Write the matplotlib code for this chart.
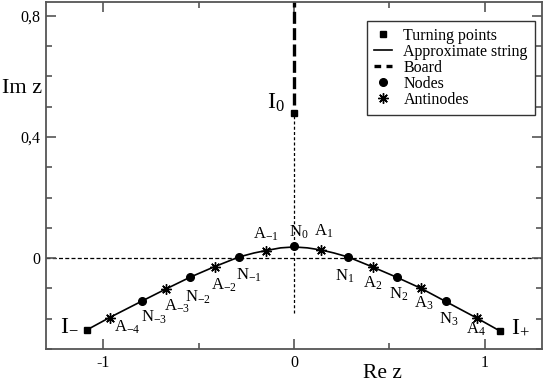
import matplotlib
matplotlib.use("Agg")
import matplotlib.pyplot as plt
from matplotlib.lines import Line2D
from matplotlib.ticker import FixedLocator, FuncFormatter

plt.rcParams['font.family'] = ['Liberation Serif', 'DejaVu Serif']
plt.rcParams['mathtext.fontset'] = 'custom'
plt.rcParams['mathtext.rm'] = 'Liberation Serif'
plt.rcParams['mathtext.it'] = 'Liberation Serif:italic'
plt.rcParams['mathtext.bf'] = 'Liberation Serif:bold'

# ---- data ----
turning_x = [-1.086, 0.0, 1.078]
turning_y = [-0.237, 0.48, -0.240]
turning_labels = [r'I$_{-}$', r'I$_{0}$', r'I$_{+}$']

node_x = [-0.798, -0.545, -0.288, 0.0, 0.283, 0.538, 0.795]
node_y = [-0.142, -0.063, 0.004, 0.040, 0.004, -0.063, -0.143]
node_labels = [r'N$_{-3}$', r'N$_{-2}$', r'N$_{-1}$', r'N$_{0}$',
               r'N$_{1}$', r'N$_{2}$', r'N$_{3}$']

antinode_x = [-0.966, -0.672, -0.416, -0.148, 0.143, 0.412, 0.667, 0.959]
antinode_y = [-0.196, -0.102, -0.028, 0.025, 0.027, -0.029, -0.100, -0.198]
antinode_labels = [r'A$_{-4}$', r'A$_{-3}$', r'A$_{-2}$', r'A$_{-1}$',
                   r'A$_{1}$', r'A$_{2}$', r'A$_{3}$', r'A$_{4}$']

string_x = [-1.086, -0.966, -0.798, -0.672, -0.545, -0.416, -0.288, -0.21,
            -0.148, -0.07, 0.0, 0.07, 0.143, 0.21, 0.283, 0.412, 0.538,
            0.667, 0.795, 0.959, 1.078]
string_y = [-0.237, -0.196, -0.142, -0.102, -0.063, -0.028, 0.004, 0.017,
            0.025, 0.034, 0.037, 0.034, 0.027, 0.017, 0.004, -0.029, -0.063,
            -0.100, -0.143, -0.198, -0.240]

board_x = [0.0, 0.0]
board_y = [0.505, 0.85]
axis_guide_x = [0.0, 0.0]
axis_guide_y = [-0.18, 0.48]

x_major = [-1, 0, 1]
x_minor = [-0.5, 0.5]
y_major = [0.0, 0.4, 0.8]
y_minor = [-0.3, -0.2, -0.1, 0.1, 0.2, 0.3, 0.5, 0.6, 0.7]

legend_labels = ['Turning points', 'Approximate string', 'Board', 'Nodes', 'Antinodes']

# ---- layout (label offsets in pixels: dx, dy, ha) ----
turning_offsets = [(-8, 0, 'right'), (-9, 4, 'right'), (11, -2, 'left')]
node_offsets = [(-1, -20, 'left'), (-5, -24, 'left'), (-3, -23, 'left'),
                (-5, 9, 'left'), (-13, -24, 'left'), (-8, -21, 'left'),
                (-7, -22, 'left')]
antinode_offsets = [(4, -14, 'left'), (-2, -22, 'left'), (-4, -23, 'left'),
                    (-13, 12, 'left'), (-7, 14, 'left'), (-10, -21, 'left'),
                    (-7, -19, 'left'), (-11, -15, 'left')]

fig = plt.figure(figsize=(5.45, 3.83), dpi=100)
ax = fig.add_axes([46 / 545, 34 / 383, 496 / 545, 347.3 / 383])

ax.set_xlim(-1.3, 1.3)
ax.set_ylim(-0.3, 0.847)

spine_col = '#555555'
for s in ax.spines.values():
    s.set_color(spine_col)
    s.set_linewidth(1.3)

# guides
ax.axhline(0, color='black', lw=0.9, dashes=(3.2, 1.8), zorder=1)
ax.plot(axis_guide_x, axis_guide_y, color='black', lw=0.9, dashes=(2.4, 1.8), zorder=1)
# board
ax.plot(board_x, board_y, color='black', lw=2.4, dashes=(3.6, 1.3), zorder=2)
# string
ax.plot(string_x, string_y, color='black', lw=1.2, zorder=3)

star = (8, 2, 0)
ax.plot(turning_x, turning_y, ls='none', marker='s', ms=4.2, color='black', zorder=4)
ax.plot(node_x, node_y, ls='none', marker='o', ms=5.5, color='black', zorder=4)
ax.plot(antinode_x, antinode_y, ls='none', marker=star, ms=7.5, mew=1.0,
        color='black', zorder=4)

for x, y, t, (dx, dy, ha) in zip(turning_x, turning_y, turning_labels, turning_offsets):
    ax.annotate(t, (x, y), xytext=(dx, dy), textcoords='offset pixels',
                ha=ha, va='baseline', fontsize=17)
for x, y, t, (dx, dy, ha) in zip(node_x, node_y, node_labels, node_offsets):
    ax.annotate(t, (x, y), xytext=(dx, dy), textcoords='offset pixels',
                ha=ha, va='baseline', fontsize=12)
for x, y, t, (dx, dy, ha) in zip(antinode_x, antinode_y, antinode_labels, antinode_offsets):
    ax.annotate(t, (x, y), xytext=(dx, dy), textcoords='offset pixels',
                ha=ha, va='baseline', fontsize=12)

# ticks
ax.xaxis.set_major_locator(FixedLocator(x_major))
ax.xaxis.set_minor_locator(FixedLocator(x_minor))
ax.yaxis.set_major_locator(FixedLocator(y_major))
ax.yaxis.set_minor_locator(FixedLocator(y_minor))
fmt = FuncFormatter(lambda v, p: ('%g' % v).replace('.', ','))
ax.xaxis.set_major_formatter(fmt)
ax.yaxis.set_major_formatter(fmt)
ax.tick_params(which='both', direction='in', top=True, right=True,
               color=spine_col, labelsize=11.5)
ax.tick_params(which='major', length=7, width=1.2, pad=4)
ax.tick_params(which='minor', length=4, width=1.2)

ax.text(-0.008, 0.737, 'Im z', transform=ax.transAxes, ha='right',
        va='baseline', fontsize=16)
ax.text(0.639, -0.084, 'Re z', transform=ax.transAxes, ha='left',
        va='baseline', fontsize=15.5)

handles = [
    Line2D([], [], ls='none', marker='s', ms=4.2, color='black'),
    Line2D([], [], color='black', lw=1.2),
    Line2D([], [], color='black', lw=2.4, dashes=(2.0, 1.6)),
    Line2D([], [], ls='none', marker='o', ms=5.5, color='black'),
    Line2D([], [], ls='none', marker=star, ms=7.5, mew=1.0, color='black'),
]
leg = ax.legend(handles, legend_labels, loc='upper right',
                bbox_to_anchor=(0.986, 0.945), borderaxespad=0,
                fontsize=11.5, frameon=True, fancybox=False, framealpha=1,
                edgecolor='#333333', handlelength=1.15, handletextpad=0.7,
                labelspacing=0.0, borderpad=0.45)
leg.get_frame().set_linewidth(1.0)

fig.savefig('out.png', dpi=100)
